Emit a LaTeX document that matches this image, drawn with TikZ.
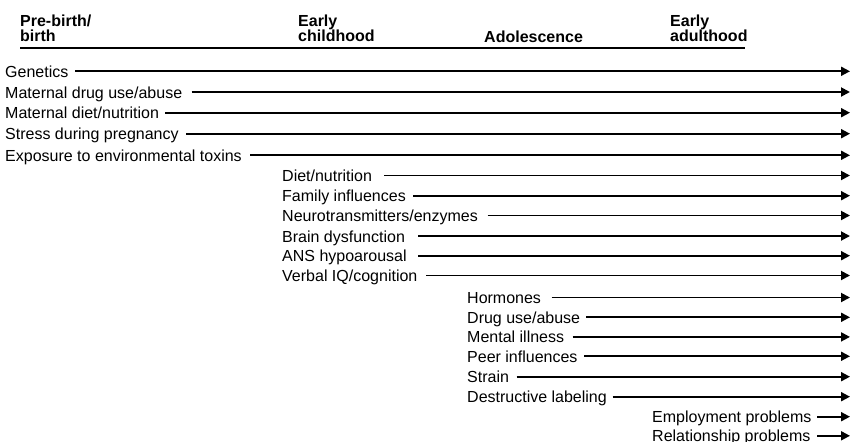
\documentclass[tikz,border=0pt]{standalone}
\usepackage{fontspec}
\setmainfont{Liberation Sans}
\usetikzlibrary{arrows.meta}
\begin{document}
\begin{tikzpicture}[x=1pt,y=-1pt,
  lbl/.style={anchor=base west,inner sep=0pt,font=\fontsize{16}{19}\selectfont},
  hdr/.style={anchor=base west,inner sep=0pt,align=left,font=\fontsize{16}{15.2}\selectfont\bfseries},
  arr/.style={line width=1.9pt,-{Triangle[length=9pt,width=9pt]}},
  rule/.style={line width=2pt}]
\useasboundingbox (0,0) rectangle (852,442);
% headers
\node[hdr] (h1) at (20,41.7) {Pre-birth/\\birth};
\node[hdr] (h2) at (298,41.7) {Early\\childhood};
\node[hdr] (h3) at (484,42) {Adolescence};
\node[hdr] (h4) at (670,41.7) {Early\\adulthood};
\coordinate (rl) at (20,47.7);
\coordinate (rr) at (745,47.7);
\draw[rule] (rl) -- (rr);
% rows: name / text x / line y / line start x / text
\foreach \n/\tx/\ly/\sx/\t in {
  r1/5/71.3/75/{Genetics},
  r2/5/92/191.7/{Maternal drug use/abuse},
  r3/5/112.7/165/{Maternal diet/nutrition},
  r4/5/133.7/186/{Stress during pregnancy},
  r5/5/155.3/250/{Exposure to environmental toxins},
  r6/282/175.5/384/{Diet/nutrition},
  r7/282/195.7/413.3/{Family influences},
  r8/282/215.5/487.7/{Neurotransmitters/enzymes},
  r9/282/236/418.3/{Brain dysfunction},
  r10/282/255.7/418.3/{ANS hypoarousal},
  r11/282/275.5/426/{Verbal IQ/cognition},
  r12/467/297.5/551.7/{Hormones},
  r13/467/317.3/586/{Drug use/abuse},
  r14/467/336.9/572.7/{Mental illness},
  r15/467/356.3/584/{Peer influences},
  r16/467/376.7/516.7/{Strain},
  r17/467/396.7/612.7/{Destructive labeling},
  r18/652/416.7/817/{Employment problems},
  r19/652/435.8/817/{Relationship problems}}{
  \node[lbl] (\n) at (\tx,\ly+6) {\t};
  \coordinate (\n s) at (\sx,\ly);
  \coordinate (\n e) at (850,\ly);
  \draw[arr] (\n s) -- (\n e);
}
\end{tikzpicture}
\end{document}
